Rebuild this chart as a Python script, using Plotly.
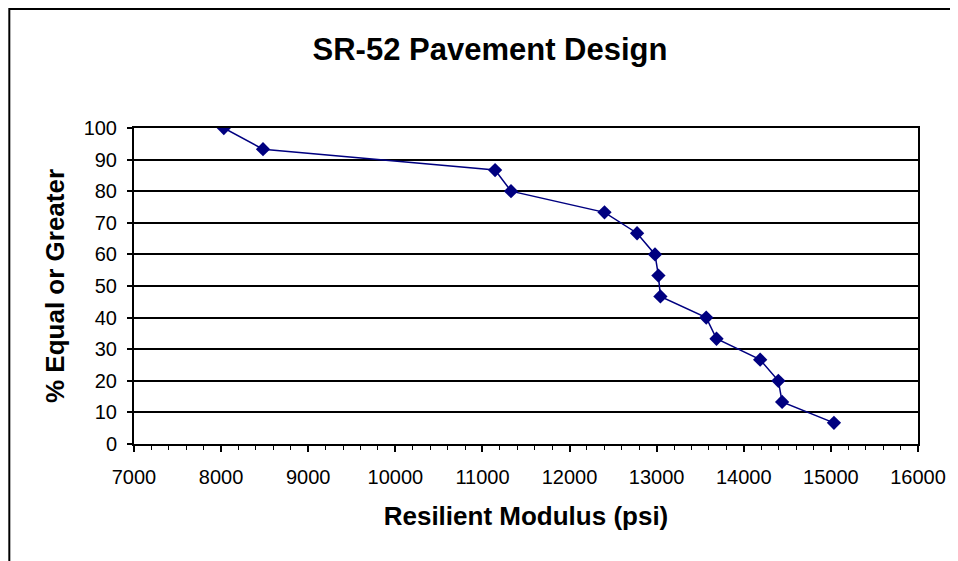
import plotly.graph_objects as go

modulus = [8031, 8481, 11145, 11328, 12401, 12775, 12981, 13020, 13043,
           13569, 13687, 14188, 14397, 14440, 15035]
pct_equal_or_greater = [100, 93.3, 86.7, 80, 73.3, 66.7, 60, 53.3, 46.7,
                        40, 33.3, 26.7, 20, 13.3, 6.7]

title_text = "SR-52 Pavement Design"
x_title = "Resilient Modulus (psi)"
y_title = "% Equal or Greater"

# page body has an 8px margin, so the figure is placed at (8, 8)
W, H = 950, 553
L, R, T, B = 126, 38, 120, 117
pw, ph = W - L - R, H - T - B

fig = go.Figure()
fig.add_trace(go.Scatter(
    x=modulus, y=pct_equal_or_greater, mode="lines+markers",
    line=dict(color="#000080", width=1.5),
    marker=dict(symbol="diamond", size=11, color="#000080"),
    showlegend=False,
))

font_family = "Liberation Sans, Arial, sans-serif"

fig.update_layout(
    width=W, height=H,
    margin=dict(l=L, r=R, t=T, b=B),
    paper_bgcolor="white", plot_bgcolor="white",
    font=dict(family=font_family, color="black", size=20),
    title=dict(text="<b>" + title_text + "</b>", x=482 / W, xanchor="center",
               y=1 - 41 / H, yanchor="middle",
               font=dict(size=31, family=font_family, color="black")),
    xaxis=dict(
        range=[7000, 16000], tick0=7000, dtick=1000, tickformat="d",
        showgrid=False, zeroline=False,
        showline=True, linecolor="black", linewidth=2, mirror=True,
        ticks="outside", ticklen=6, tickwidth=1.5, tickcolor="black",
        minor=dict(dtick=200, ticks="outside", ticklen=4, tickwidth=1, tickcolor="black", showgrid=False),
        tickfont=dict(size=20), ticklabelstandoff=8,
        title=dict(text="<b>" + x_title + "</b>", font=dict(size=26), standoff=20),
    ),
    yaxis=dict(
        range=[0, 100], tick0=0, dtick=10,
        showgrid=True, gridcolor="black", gridwidth=1.5,
        zeroline=False,
        showline=True, linecolor="black", linewidth=2, mirror=True,
        ticks="outside", ticklen=5, tickwidth=1.5, tickcolor="black",
        tickfont=dict(size=20), ticklabelstandoff=6,
        title=dict(text="<b>" + y_title + "</b>", font=dict(size=26), standoff=12),
    ),
    shapes=[dict(
        type="rect", xref="paper", yref="paper",
        x0=(1 - L) / pw, x1=(W + 20 - L) / pw,
        y0=-(B + 20) / ph, y1=(ph + T - 1) / ph,
        line=dict(color="black", width=2), fillcolor="rgba(0,0,0,0)", layer="below",
    )],
)

fig.write_html("out.html")
